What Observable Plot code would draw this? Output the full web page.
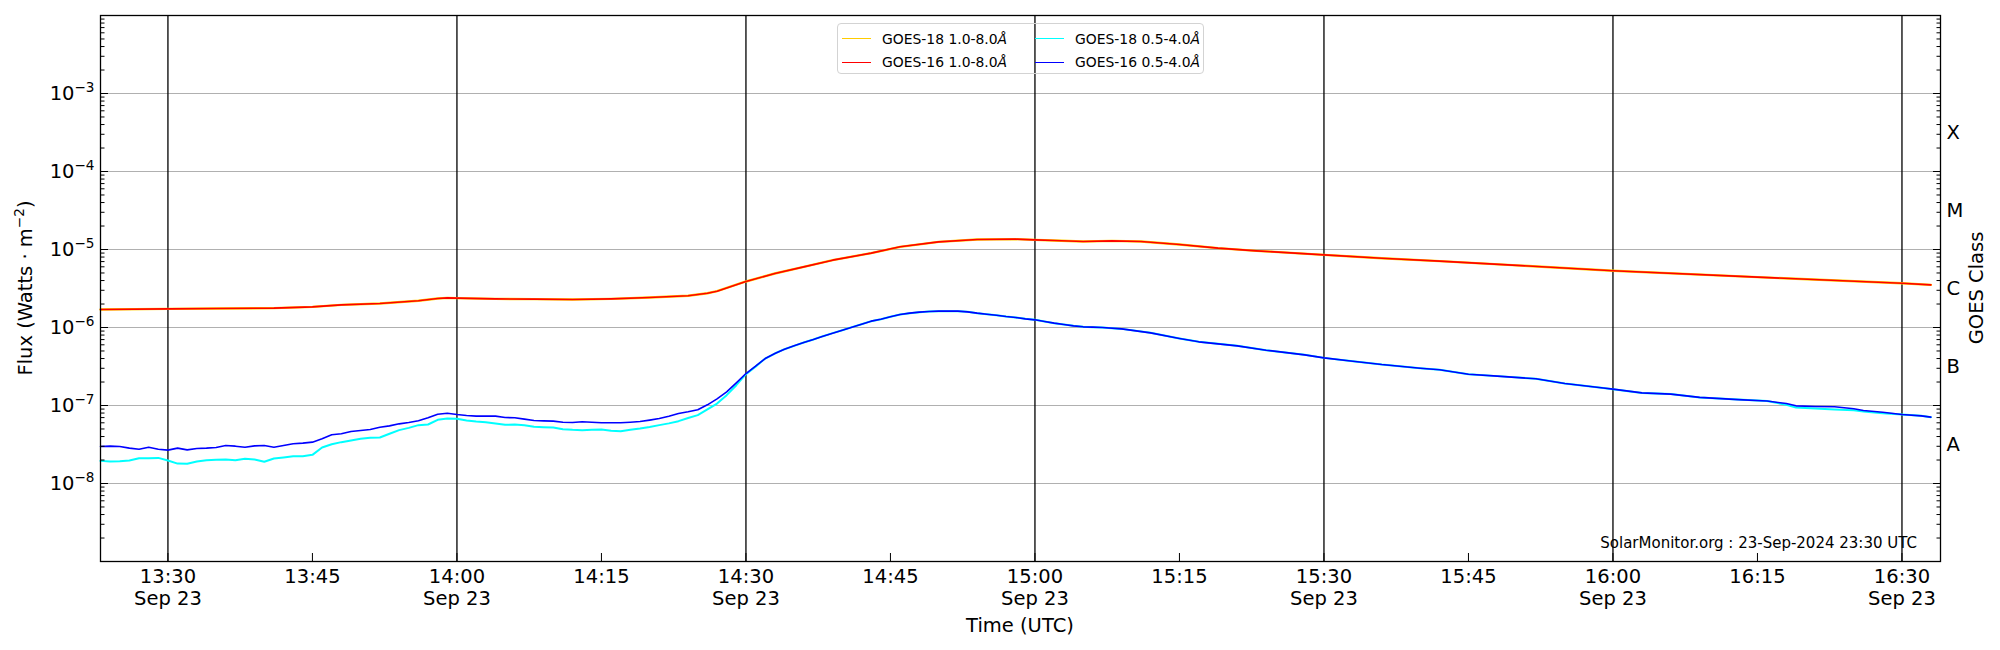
<!DOCTYPE html>
<html><head><meta charset="utf-8">
<script src="https://cdn.jsdelivr.net/npm/d3@7"></script>
<script src="https://cdn.jsdelivr.net/npm/@observablehq/plot@0.6"></script>
<style>
body{margin:0;background:#fff;font-family:"DejaVu Sans",sans-serif;}
#wrap{position:relative;width:2000px;height:650px;overflow:hidden;}
.legend{position:absolute;left:837px;top:23px;width:367px;height:51px;border:1px solid #d3d3d3;border-radius:4px;box-sizing:border-box;font-size:13.9px;color:#000;}
.item{position:absolute;display:flex;align-items:center;height:18px;white-space:nowrap;}
.sw{width:29px;height:0;border-top:1.5px solid;margin-right:11px;}
</style></head><body><div id="wrap"></div>
<script>
const day = "2024-09-23";

// GOES 0.5-4.0 Å (short channel) sample times
const shortTimes = [
 "13:23","13:24","13:25","13:26","13:27","13:28","13:29","13:30","13:31","13:32",
 "13:33","13:34","13:35","13:36","13:37","13:38","13:39","13:40","13:41","13:42",
 "13:43","13:44","13:45","13:46","13:47","13:48","13:49","13:50","13:51","13:52",
 "13:53","13:54","13:55","13:56","13:57","13:58","13:59","14:00","14:01","14:02",
 "14:03","14:04","14:05","14:06","14:07","14:08","14:09","14:10","14:11","14:12",
 "14:13","14:14","14:15","14:16","14:17","14:18","14:19","14:20","14:21","14:22",
 "14:23","14:24","14:25","14:26","14:27","14:28","14:29","14:30","14:31","14:32",
 "14:33","14:34","14:35","14:36","14:37","14:38","14:39","14:40","14:41","14:42",
 "14:43","14:44","14:45","14:46","14:47","14:48","14:49","14:50","14:51","14:52",
 "14:53","14:54","14:55","14:56","14:57","14:58","14:59","15:00","15:01","15:02",
 "15:03","15:04","15:05","15:06","15:07","15:09","15:12","15:15","15:17","15:21",
 "15:24","15:28","15:30","15:33","15:36","15:40","15:42","15:45","15:48","15:52",
 "15:55","15:59","16:00","16:03","16:06","16:09","16:13","16:16","16:18","16:19",
 "16:21","16:23","16:25","16:26","16:28","16:30","16:32","16:33"];

const goes16Short = [
 2.98e-8,3.01e-8,2.98e-8,2.84e-8,2.75e-8,2.92e-8,2.75e-8,2.68e-8,2.84e-8,2.70e-8,
 2.81e-8,2.84e-8,2.90e-8,3.07e-8,3.01e-8,2.92e-8,3.04e-8,3.07e-8,2.92e-8,3.07e-8,
 3.23e-8,3.29e-8,3.39e-8,3.74e-8,4.21e-8,4.34e-8,4.65e-8,4.78e-8,4.92e-8,5.27e-8,
 5.48e-8,5.82e-8,6.05e-8,6.36e-8,6.95e-8,7.74e-8,7.97e-8,7.67e-8,7.45e-8,7.30e-8,
 7.30e-8,7.30e-8,7.02e-8,6.95e-8,6.68e-8,6.43e-8,6.36e-8,6.30e-8,6.11e-8,6.05e-8,
 6.18e-8,6.11e-8,6.00e-8,6.00e-8,6.00e-8,6.10e-8,6.24e-8,6.50e-8,6.81e-8,7.30e-8,
 7.89e-8,8.30e-8,8.80e-8,1.02e-7,1.218e-7,1.497e-7,1.953e-7,2.57e-7,3.19e-7,4.00e-7,
 4.64e-7,5.27e-7,5.82e-7,6.42e-7,7.02e-7,7.74e-7,8.46e-7,9.24e-7,1.01e-6,1.103e-6,
 1.206e-6,1.279e-6,1.370e-6,1.468e-6,1.527e-6,1.573e-6,1.604e-6,1.620e-6,1.620e-6,1.620e-6,
 1.588e-6,1.527e-6,1.482e-6,1.439e-6,1.384e-6,1.343e-6,1.291e-6,1.254e-6,1.194e-6,1.137e-6,
 1.093e-6,1.05e-6,1.02e-6,1.01e-6,1.0e-6,9.6e-7,8.54e-7,7.23e-7,6.55e-7,5.82e-7,
 5.12e-7,4.46e-7,4.08e-7,3.70e-7,3.35e-7,3.01e-7,2.87e-7,2.52e-7,2.38e-7,2.20e-7,
 1.91e-7,1.68e-7,1.62e-7,1.45e-7,1.40e-7,1.27e-7,1.19e-7,1.14e-7,1.06e-7,9.9e-8,
 9.71e-8,9.62e-8,9.07e-8,8.63e-8,8.21e-8,7.66e-8,7.37e-8,7.09e-8];

const goes18Short = [
 1.95e-8,1.91e-8,1.93e-8,1.97e-8,2.11e-8,2.11e-8,2.13e-8,1.97e-8,1.80e-8,1.79e-8,
 1.91e-8,1.99e-8,2.01e-8,2.03e-8,1.99e-8,2.07e-8,2.03e-8,1.90e-8,2.09e-8,2.16e-8,
 2.24e-8,2.24e-8,2.33e-8,2.90e-8,3.19e-8,3.39e-8,3.56e-8,3.74e-8,3.85e-8,3.89e-8,
 4.34e-8,4.83e-8,5.17e-8,5.60e-8,5.71e-8,6.55e-8,6.81e-8,6.75e-8,6.43e-8,6.24e-8,
 6.11e-8,5.88e-8,5.65e-8,5.71e-8,5.60e-8,5.33e-8,5.27e-8,5.22e-8,4.97e-8,4.88e-8,
 4.83e-8,4.88e-8,4.92e-8,4.75e-8,4.69e-8,4.90e-8,5.07e-8,5.30e-8,5.60e-8,5.90e-8,
 6.30e-8,6.90e-8,7.52e-8,8.90e-8,1.06e-7,1.357e-7,1.82e-7,2.52e-7,3.15e-7,4.00e-7,
 4.64e-7,5.27e-7,5.82e-7,6.42e-7,7.02e-7,7.74e-7,8.46e-7,9.24e-7,1.01e-6,1.103e-6,
 1.206e-6,1.279e-6,1.370e-6,1.468e-6,1.527e-6,1.573e-6,1.604e-6,1.620e-6,1.620e-6,1.620e-6,
 1.588e-6,1.527e-6,1.482e-6,1.439e-6,1.384e-6,1.343e-6,1.291e-6,1.254e-6,1.194e-6,1.137e-6,
 1.093e-6,1.05e-6,1.02e-6,1.01e-6,1.0e-6,9.6e-7,8.54e-7,7.23e-7,6.55e-7,5.82e-7,
 5.12e-7,4.46e-7,4.08e-7,3.70e-7,3.35e-7,3.01e-7,2.87e-7,2.52e-7,2.38e-7,2.20e-7,
 1.91e-7,1.68e-7,1.62e-7,1.45e-7,1.40e-7,1.27e-7,1.19e-7,1.14e-7,1.02e-7,9.43e-8,
 9.15e-8,8.89e-8,8.71e-8,8.38e-8,7.97e-8,7.66e-8,7.37e-8,7.09e-8];

// GOES 1.0-8.0 Å (long channel)
const longTimes = [
 "13:23","13:30","13:35","13:41","13:45","13:48","13:52","13:56","13:58","13:59",
 "14:00","14:04","14:08","14:12","14:16","14:20","14:24","14:26","14:27","14:30",
 "14:33","14:36","14:39","14:43","14:46","14:50","14:54","14:58","15:00","15:02",
 "15:05","15:08","15:11","15:15","15:19","15:23","15:27","15:30","15:36","15:42",
 "15:54","16:00","16:15","16:30","16:33"];
const goes16Long = [
 1.70e-6,1.735e-6,1.752e-6,1.77e-6,1.84e-6,1.95e-6,2.03e-6,2.20e-6,2.35e-6,2.40e-6,
 2.38e-6,2.33e-6,2.31e-6,2.29e-6,2.33e-6,2.42e-6,2.55e-6,2.75e-6,2.92e-6,3.89e-6,
 4.92e-6,5.99e-6,7.30e-6,8.98e-6,1.082e-5,1.254e-5,1.343e-5,1.357e-5,1.330e-5,1.304e-5,
 1.266e-5,1.291e-5,1.266e-5,1.159e-5,1.04e-5,9.61e-6,8.98e-6,8.54e-6,7.74e-6,7.09e-6,
 5.88e-6,5.33e-6,4.42e-6,3.70e-6,3.52e-6];
const goes18Long = [
 1.70e-6,1.735e-6,1.752e-6,1.77e-6,1.84e-6,1.95e-6,2.03e-6,2.20e-6,2.35e-6,2.40e-6,
 2.38e-6,2.33e-6,2.31e-6,2.29e-6,2.33e-6,2.42e-6,2.55e-6,2.75e-6,2.92e-6,3.89e-6,
 4.92e-6,5.99e-6,7.30e-6,8.98e-6,1.082e-5,1.254e-5,1.343e-5,1.357e-5,1.330e-5,1.304e-5,
 1.266e-5,1.291e-5,1.266e-5,1.159e-5,1.04e-5,9.61e-6,8.98e-6,8.54e-6,7.74e-6,7.09e-6,
 5.88e-6,5.33e-6,4.42e-6,3.70e-6,3.52e-6];

const xDomain = ["13:23", "16:34"];
const xTickLabels = ["13:30","13:45","14:00","14:15","14:30","14:45","15:00","15:15","15:30","15:45","16:00","16:15","16:30"];
const dateLabel = "Sep 23";
const yDomainExp = [-9, -2];
const yLabelExponents = [-8, -7, -6, -5, -4, -3];
const classLabels = ["A", "B", "C", "M", "X"];
const classExponents = [-7.5, -6.5, -5.5, -4.5, -3.5];
const seriesNames = ["GOES-18 1.0-8.0", "GOES-16 1.0-8.0", "GOES-18 0.5-4.0", "GOES-16 0.5-4.0"];
const seriesColors = ["#ffcc00", "#ff0000", "#00ffff", "#0000ff"];
const yLabelText = ["Flux (Watts · m", "−2", ")"];
const y2LabelText = "GOES Class";
const xLabelText = "Time (UTC)";
const creditText = "SolarMonitor.org : 23-Sep-2024 23:30 UTC";

const toDate = s => new Date(`${day}T${s}:00Z`);
const rows = (times, vals) => times.map((t, i) => ({t: toDate(t), v: vals[i]}));
const g18L = rows(longTimes, goes18Long);
const g16L = rows(longTimes, goes16Long);
const g18S = rows(shortTimes, goes18Short);
const g16S = rows(shortTimes, goes16Short);

const isHalf = s => s.endsWith(":00") || s.endsWith(":30");
const xTicks = xTickLabels.map(toDate);
const halfHours = xTickLabels.filter(isHalf).map(toDate);
const hhmm = d3.utcFormat("%H:%M");
const fmtX = d => { const s = hhmm(d); return isHalf(s) ? s + "\n" + dateLabel : s; };

const majors = d3.range(yDomainExp[0], yDomainExp[1] + 1).map(e => Math.pow(10, e));
const minors = [];
for (let e = yDomainExp[0]; e < yDomainExp[1]; e++) for (let k = 2; k <= 9; k++) minors.push(k * Math.pow(10, e));
const labelTicks = yLabelExponents.map(e => Math.pow(10, e));
const classRows = classLabels.map((c, i) => ({c, v: Math.pow(10, classExponents[i])}));

const FS = 19.5;
const svg = Plot.plot({
  width: 2000, height: 650,
  marginLeft: 100, marginRight: 60, marginTop: 15, marginBottom: 89,
  style: {fontFamily: "DejaVu Sans, sans-serif", fontSize: FS + "px", background: "white", color: "black"},
  x: {type: "utc", domain: xDomain.map(toDate)},
  y: {type: "log", domain: yDomainExp.map(e => Math.pow(10, e))},
  marks: [
    Plot.ruleY(labelTicks, {stroke: "#b0b0b0", strokeWidth: 1.1}),
    Plot.ruleX(halfHours, {stroke: "black", strokeWidth: 1.3}),
    Plot.line(g18L, {x: "t", y: "v", stroke: seriesColors[0], strokeWidth: 2.4}),
    Plot.line(g16L, {x: "t", y: "v", stroke: seriesColors[1], strokeWidth: 1.6}),
    Plot.line(g18S, {x: "t", y: "v", stroke: seriesColors[2], strokeWidth: 2}),
    Plot.line(g16S, {x: "t", y: "v", stroke: seriesColors[3], strokeWidth: 1.6}),
    Plot.axisX({ticks: xTicks, tickFormat: fmtX, tickSize: -8, tickPadding: 14.2, fontSize: FS, lineHeight: 1.13, label: null}),
    Plot.axisY({anchor: "left", ticks: labelTicks, tickSize: 0, tickPadding: 6, tickFormat: d => "10^" + Math.round(Math.log10(d)), fontSize: FS, label: null}),
    Plot.axisY({anchor: "left", ticks: majors, tickSize: -8, tickFormat: () => "", label: null}),
    Plot.axisY({anchor: "left", ticks: minors, tickSize: -4.5, tickFormat: () => "", label: null}),
    Plot.axisY({anchor: "right", ticks: majors, tickSize: -8, tickFormat: () => "", label: null}),
    Plot.axisY({anchor: "right", ticks: minors, tickSize: -4.5, tickFormat: () => "", label: null}),
    Plot.text(classRows, {y: "v", text: "c", frameAnchor: "right", dx: 6, textAnchor: "start", fontSize: FS, fill: "black"}),
    Plot.frame({stroke: "black", strokeWidth: 1.3})
  ]
});

const NS = "http://www.w3.org/2000/svg";
// superscript exponents on the y tick labels
svg.querySelectorAll("text").forEach(t => {
  const s = t.textContent;
  if (!s.startsWith("10^")) return;
  const e = s.slice(3).replace("-", "−");
  t.textContent = "";
  const b = document.createElementNS(NS, "tspan"); b.textContent = "10";
  const p = document.createElementNS(NS, "tspan"); p.textContent = e;
  p.setAttribute("dy", "-8"); p.setAttribute("font-size", "13.6px");
  t.append(b, p);
});

const s = d3.select(svg);
const yl = s.append("text").attr("transform", "translate(32,288) rotate(-90)").attr("text-anchor", "middle")
  .attr("font-size", FS).attr("fill", "black");
yl.append("tspan").text(yLabelText[0]);
yl.append("tspan").attr("dy", -8).attr("font-size", 13.6).text(yLabelText[1]);
yl.append("tspan").attr("dy", 8).text(yLabelText[2]);
s.append("text").attr("transform", "translate(1983,288) rotate(-90)").attr("text-anchor", "middle")
  .attr("font-size", FS).attr("fill", "black").text(y2LabelText);
s.append("text").attr("x", 1020).attr("y", 632).attr("text-anchor", "middle")
  .attr("font-size", FS).attr("fill", "black").text(xLabelText);
s.append("text").attr("x", 1917).attr("y", 548).attr("text-anchor", "end")
  .attr("font-size", 15).attr("fill", "black").text(creditText);

const wrap = document.getElementById("wrap");
wrap.appendChild(svg);

// legend (two columns)
const lg = document.createElement("div"); lg.className = "legend";
const pos = [[4, 5.5], [4, 29], [197, 5.5], [197, 29]];
seriesNames.forEach((n, i) => {
  const it = document.createElement("div"); it.className = "item";
  it.style.left = pos[i][0] + "px"; it.style.top = pos[i][1] + "px";
  const sw = document.createElement("span"); sw.className = "sw"; sw.style.borderTopColor = seriesColors[i];
  const tx = document.createElement("span"); tx.innerHTML = n + "<i>Å</i>";
  it.append(sw, tx); lg.appendChild(it);
});
wrap.appendChild(lg);
</script></body></html>
